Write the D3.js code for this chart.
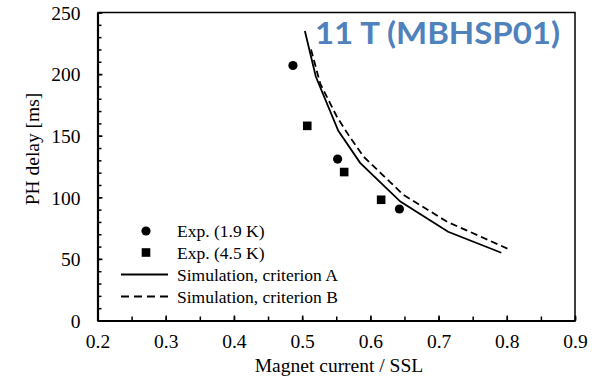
<!DOCTYPE html>
<html><head><meta charset="utf-8">
<script src="https://cdn.jsdelivr.net/npm/d3@7"></script>
<style>body{margin:0;background:#fff}svg{display:block}</style>
</head><body>
<svg id="c" width="601" height="381"></svg>
<script>
// ---- data ----
const xTicks = [0.2, 0.3, 0.4, 0.5, 0.6, 0.7, 0.8, 0.9];
const yTicks = [0, 50, 100, 150, 200, 250];
const exp19X = [0.4865, 0.552, 0.6426];
const exp19Y = [207, 131, 90.5];
const exp45X = [0.5075, 0.5616, 0.6158];
const exp45Y = [158, 120.5, 98];
const simAX = [0.504, 0.52, 0.553, 0.585, 0.644, 0.714, 0.792];
const simAY = [235, 198, 154, 128, 96.5, 72, 55];
const simBX = [0.513, 0.5265, 0.551, 0.568, 0.59, 0.6485, 0.712, 0.805];
const simBY = [220, 192.3, 165.3, 150.5, 133, 102, 80.3, 57.4];
const legendLabels = ["Exp. (1.9 K)", "Exp. (4.5 K)", "Simulation, criterion A", "Simulation, criterion B"];
const titleText = "11 T (MBHSP01)";

// ---- layout ----
const L = 97.5, R = 575, T = 12.5, B = 320.5;
const svg = d3.select("#c");
const x = d3.scaleLinear().domain([0.2, 0.9]).range([L, R]);
const y = d3.scaleLinear().domain([0, 250]).range([B, T]);
const serif = "'Liberation Serif', 'Times New Roman', serif";

// frame (top & right)
svg.append("path").attr("d", `M${L},${T}H${R}V${B}`).attr("fill", "none").attr("stroke", "#000").attr("stroke-width", 1.5);

// minor ticks
const yMinor = d3.range(0, 251, 10);
const xMinor = d3.range(0, 15).map(i => +(0.2 + i * 0.05).toFixed(2));
svg.append("g").attr("transform", `translate(${L},0)`)
  .call(d3.axisLeft(y).tickValues(yMinor).tickSize(-4).tickSizeOuter(0).tickFormat(""))
  .call(g => g.selectAll("line,path").attr("stroke-width", 1.5));
svg.append("g").attr("transform", `translate(0,${B})`)
  .call(d3.axisBottom(x).tickValues(xMinor).tickSize(-4).tickSizeOuter(0).tickFormat(""))
  .call(g => g.selectAll("line,path").attr("stroke-width", 1.5));

// major axes
const ya = svg.append("g").attr("transform", `translate(${L},0)`)
  .call(d3.axisLeft(y).tickValues(yTicks).tickSize(-5).tickSizeOuter(0).tickPadding(17).tickFormat(d3.format("d")));
ya.selectAll("line").attr("stroke-width", 1.5);
ya.select(".domain").attr("stroke-width", 2.2);
ya.selectAll("text").attr("font-family", serif).attr("font-size", 19.5).attr("fill", "#000").attr("dy", "0.35em");

const xa = svg.append("g").attr("transform", `translate(0,${B})`)
  .call(d3.axisBottom(x).tickValues(xTicks).tickSize(-5).tickSizeOuter(0).tickPadding(14).tickFormat(d3.format(".1f")));
xa.selectAll("line").attr("stroke-width", 1.5);
xa.select(".domain").attr("stroke-width", 2.2);
xa.selectAll("text").attr("font-family", serif).attr("font-size", 19.5).attr("fill", "#000");

// axis titles
svg.append("text").attr("x", 339).attr("y", 372).attr("text-anchor", "middle")
  .attr("font-family", serif).attr("font-size", 19.5).text("Magnet current / SSL");
svg.append("text").attr("transform", "translate(39,149) rotate(-90)").attr("text-anchor", "middle")
  .attr("font-family", serif).attr("font-size", 19.5).text("PH delay [ms]");

// lines
const line = d3.line().x(d => x(d[0])).y(d => y(d[1]));
svg.append("path").datum(simAX.map((v, i) => [v, simAY[i]])).attr("d", line)
  .attr("fill", "none").attr("stroke", "#000").attr("stroke-width", 1.8);
svg.append("path").datum(simBX.map((v, i) => [v, simBY[i]])).attr("d", line)
  .attr("fill", "none").attr("stroke", "#000").attr("stroke-width", 1.8).attr("stroke-dasharray", "7,4");

// markers
svg.append("g").selectAll("circle").data(exp19X.map((v, i) => [v, exp19Y[i]])).join("circle")
  .attr("cx", d => x(d[0])).attr("cy", d => y(d[1])).attr("r", 4.6).attr("fill", "#000");
svg.append("g").selectAll("rect").data(exp45X.map((v, i) => [v, exp45Y[i]])).join("rect")
  .attr("x", d => x(d[0]) - 4.3).attr("y", d => y(d[1]) - 4.3).attr("width", 8.6).attr("height", 8.6).attr("fill", "#000");

// legend
const lg = svg.append("g");
const rowY = [231, 252.5, 274.5, 296.5];
lg.append("circle").attr("cx", 146).attr("cy", rowY[0]).attr("r", 4.6);
lg.append("rect").attr("x", 146 - 4.3).attr("y", rowY[1] - 4.3).attr("width", 8.6).attr("height", 8.6);
lg.append("line").attr("x1", 121).attr("x2", 168).attr("y1", rowY[2]).attr("y2", rowY[2]).attr("stroke", "#000").attr("stroke-width", 1.8);
lg.append("line").attr("x1", 121).attr("x2", 168).attr("y1", rowY[3]).attr("y2", rowY[3]).attr("stroke", "#000").attr("stroke-width", 1.8).attr("stroke-dasharray", "8,5");
lg.selectAll("text").data(legendLabels).join("text")
  .attr("x", 177).attr("y", (d, i) => rowY[i] + 6).attr("font-family", serif).attr("font-size", 17.5).text(d => d);

// title
svg.append("text").attr("x", 315).attr("y", 43.5).attr("font-family", "Lato, 'Open Sans', sans-serif")
  .attr("font-weight", "bold").attr("font-size", 30).attr("fill", "#4F81BD")
  .attr("textLength", 245).attr("lengthAdjust", "spacingAndGlyphs").text(titleText);
</script>
</body></html>
